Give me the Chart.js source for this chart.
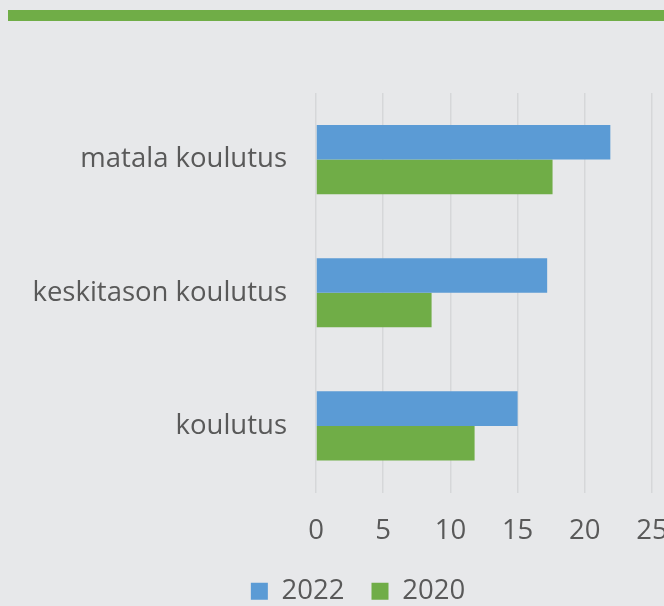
<!DOCTYPE html>
<html>
<head>
<meta charset="utf-8">
<script src="https://cdn.jsdelivr.net/npm/chart.js@4/dist/chart.umd.min.js"></script>
<style>
  html, body { margin: 0; padding: 0; background: #e7e8ea; overflow: hidden; }
  #topbar { position: absolute; left: 8px; top: 10px; width: 680px; height: 11px; background: #70ad47; }
  #wrap { position: absolute; left: 0; top: 13px; width: 716px; height: 606px; }
</style>
</head>
<body>
<div id="topbar"></div>
<div id="wrap"><canvas id="chart" width="716" height="606"></canvas></div>
<script>
  // education level labels (Finnish, as in the source)
  const categories = ['matala koulutus', 'keskitason koulutus', 'koulutus'];
  const values2022 = [21.9, 17.2, 15.0];
  const values2020 = [17.6, 8.6, 11.8];
  const xTicks = [0, 5, 10, 15, 20, 25];

  const textColor = '#595959';
  const font = { family: 'Open Sans', size: 27.5 };

  // centre the legend on the whole canvas, not on the padded area
  const centreLegend = {
    id: 'centreLegend',
    beforeDraw(chart) {
      if (!chart.legend) return;
      chart.legend.left = 0;
      chart.legend.right = chart.width;
    },
  };

  new Chart(document.getElementById('chart'), {
    type: 'bar',
    data: {
      labels: categories,
      datasets: [
        { label: '2022', data: values2022, backgroundColor: '#5b9bd5', barPercentage: 1, categoryPercentage: 0.52 },
        { label: '2020', data: values2020, backgroundColor: '#70ad47', barPercentage: 1, categoryPercentage: 0.52 },
      ],
    },
    options: {
      indexAxis: 'y',
      responsive: false,
      animation: false,
      layout: { padding: { top: 80, right: 64, left: 0, bottom: 4 } },
      scales: {
        x: {
          min: xTicks[0], max: xTicks[xTicks.length - 1],
          afterBuildTicks: s => { s.ticks = xTicks.map(v => ({ value: v })); },
          afterFit: s => { s.height = 58; },
          grid: { color: '#d6d7d9', lineWidth: 1.5, drawTicks: false },
          border: { display: false },
          ticks: { color: textColor, font, padding: 22, maxRotation: 0 },
        },
        y: {
          afterFit: s => { s.width = 316; },
          grid: { display: false },
          border: { display: false },
          ticks: { color: textColor, font, padding: 21 },
        },
      },
      plugins: {
        legend: {
          position: 'bottom',
          labels: { color: textColor, font, boxWidth: 17, boxHeight: 17, padding: 27 },
        },
        tooltip: { enabled: false },
      },
    },
    plugins: [centreLegend],
  });
</script>
</body>
</html>
